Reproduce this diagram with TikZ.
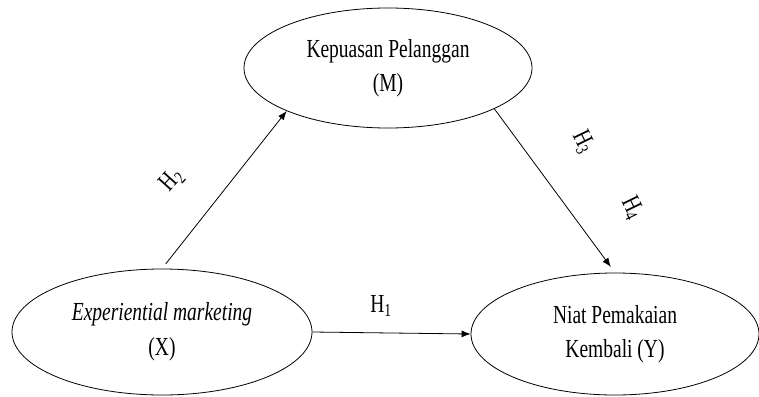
\documentclass[tikz,border=0pt]{standalone}
\usepackage{fontspec}
\setmainfont{Liberation Serif}
\usepackage{graphicx}
\usetikzlibrary{shapes.geometric,arrows.meta}

\newcommand{\sq}[1]{\scalebox{0.75}[1]{#1}}

\begin{document}
\begin{tikzpicture}[x=1pt,y=-1pt]
  \useasboundingbox (0,0) rectangle (759,396);

  \coordinate (Mc) at (388,68);
  \coordinate (Xc) at (162,332);
  \coordinate (Yc) at (615,334);

  \node[draw, line width=0.8pt, ellipse, minimum width=288pt, minimum height=120pt, inner sep=0pt,
        align=center, font=\fontsize{26}{34}\selectfont] (M) at (Mc)
        {\sq{Kepuasan Pelanggan}\\ \sq{(M)}};
  \node[draw, line width=0.8pt, ellipse, minimum width=300pt, minimum height=126pt, inner sep=0pt,
        align=center, font=\fontsize{26}{35}\selectfont] (X) at (Xc)
        {\sq{\itshape Experiential marketing}\\ \sq{(X)}};
  \node[draw, line width=0.8pt, ellipse, minimum width=288pt, minimum height=122pt, inner sep=0pt,
        align=center, font=\fontsize{26}{34}\selectfont] (Y) at (Yc)
        {\sq{Niat Pemakaian}\\ \sq{Kembali (Y)}};

  \draw[line width=0.8pt, -{Latex[length=9pt,width=7pt]}, shorten <=6pt] (X.north) -- (M.203);
  \draw[line width=0.8pt, -{Latex[length=9pt,width=7pt]}, shorten >=7pt] (M.339) -- (Y.north);
  \draw[line width=0.8pt, -{Latex[length=9pt,width=7pt]}] (X.east) -- (Y.west);

  \node[font=\fontsize{26}{30}\selectfont] (h1) at (381,306) {\sq{H\textsubscript{1}}};
  \node[font=\fontsize{26}{30}\selectfont, rotate=48] (h2) at (172,180) {\sq{H\textsubscript{2}}};
  \node[font=\fontsize{26}{30}\selectfont, rotate=-64] (h3) at (583,142) {\sq{H\textsubscript{3}}};
  \node[font=\fontsize{26}{30}\selectfont, rotate=-64] (h4) at (632,208) {\sq{H\textsubscript{4}}};
\end{tikzpicture}
\end{document}
